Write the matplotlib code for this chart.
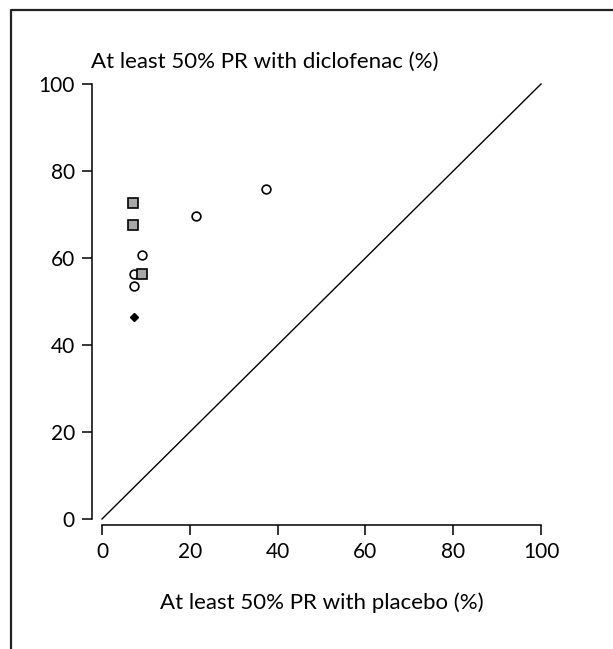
import matplotlib.pyplot as plt
from matplotlib.lines import Line2D

plt.rcParams['font.family'] = ['Lato', 'DejaVu Sans']

# trials: placebo vs diclofenac (% with at least 50% pain relief)
circ_x = [37.4, 21.3, 9.2, 7.3, 7.3]
circ_y = [75.9, 69.7, 60.6, 56.4, 53.6]
sq_x = [7.1, 7.1, 9.2]
sq_y = [72.7, 67.7, 56.4]
dia_x = [7.3]
dia_y = [46.4]
ticks = [0, 20, 40, 60, 80, 100]

W, H = 613, 649
fig = plt.figure(figsize=(W / 100, H / 100), dpi=100)
ax = fig.add_axes([102 / W, (H - 519) / H, (541 - 102) / W, (519 - 84) / H])

ax.plot([0, 100], [0, 100], color='black', lw=1.0, clip_on=False)
ax.plot(circ_x, circ_y, 'o', ms=6.3, mfc='white', mec='black', mew=1.2, clip_on=False)
ax.plot(sq_x, sq_y, 's', ms=6.5, mfc='#a8a8a8', mec='black', mew=1.2, clip_on=False)
ax.plot(dia_x, dia_y, 'D', ms=4, mfc='black', mec='black', clip_on=False)

ax.set_xlim(0, 100)
ax.set_ylim(0, 100)
ax.set_xticks(ticks)
ax.set_yticks(ticks)
ax.spines['top'].set_visible(False)
ax.spines['right'].set_visible(False)
ax.spines['left'].set_position(('outward', 7))
ax.spines['bottom'].set_position(('outward', 4))
for s in ['left', 'bottom']:
    ax.spines[s].set_linewidth(1.1)
ax.tick_params(direction='out', length=7, width=1.1, labelsize=15, pad=5.5)

ax.set_xlabel('At least 50% PR with placebo (%)', fontsize=16, labelpad=22)
fig.text(91 / W, 1 - 62 / H, 'At least 50% PR with diclofenac (%)', fontsize=16,
         ha='left', va='center')

# outer frame (left and top edges)
fig.add_artist(Line2D([11 / W, 11 / W, 1], [0, 1 - 10 / H, 1 - 10 / H],
                      transform=fig.transFigure, color='#222222', lw=1.6))

fig.savefig('out.png', dpi=100)
